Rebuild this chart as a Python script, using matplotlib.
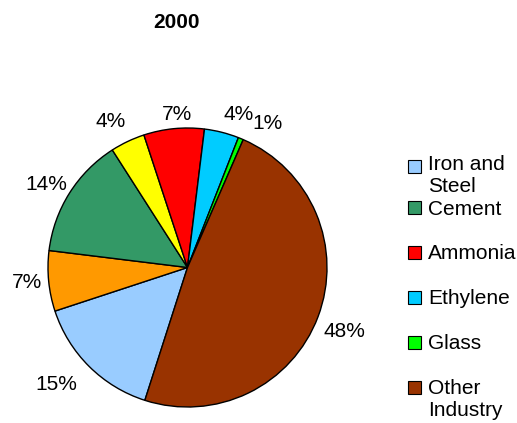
import numpy as np
import matplotlib
matplotlib.use("Agg")
import matplotlib.pyplot as plt
from matplotlib.patches import Rectangle

plt.rcParams["font.family"] = ["Liberation Sans", "DejaVu Sans"]

# slices, clockwise from the bottom
shares = [15, 7, 14, 4, 7, 4, 0.6, 48.4]
slice_colors = ["#99CCFF", "#FF9900", "#339966", "#FFFF00",
                "#FF0000", "#00CCFF", "#00FF00", "#993300"]
pct_labels = [f"{v:.0f}%" for v in shares]

# legend entries as shown in the picture
legend_names = ["Iron and\nSteel", "Cement", "Ammonia", "Ethylene", "Glass", "Other\nIndustry"]
legend_colors = ["#99CCFF", "#339966", "#FF0000", "#00CCFF", "#00FF00", "#993300"]

W, H = 517, 423
FS = 15
fig = plt.figure(figsize=(W / 100, H / 100), dpi=100)

cx, cy, r = 187.5, 267.5, 139.5
ax = fig.add_axes([(cx - r) / W, (H - cy - r) / H, 2 * r / W, 2 * r / H])
wedges, texts = ax.pie(shares, colors=slice_colors, labels=pct_labels,
                       startangle=-107.8, counterclock=False, labeldistance=1.18,
                       wedgeprops=dict(edgecolor="black", linewidth=1.0),
                       textprops=dict(fontsize=FS))
ax.set_xlim(-1, 1)
ax.set_ylim(-1, 1)

# place labels just outside the rim, like the spreadsheet did
renderer = fig.canvas.get_renderer()
px = 1 / r  # one pixel in data units
gap = 7
# pixel shifts (right, down) to match where the original put each label
nudge = {0: (-13, 6), 3: (-8, -5), 4: (5, 2), 5: (11, -2), 6: (18, 0), 7: (0, 9)}
for i, (w, t) in enumerate(zip(wedges, texts)):
    t.set_ha("center")
    t.set_va("center")
    bb = t.get_window_extent(renderer)
    th = np.deg2rad((w.theta1 + w.theta2) / 2)
    x = (1 + gap * px) * np.cos(th) + bb.width / 2 * px * np.cos(th)
    y = (1 + gap * px) * np.sin(th) + bb.height / 2 * px * np.sin(th)
    dx, dy = nudge.get(i, (0, 0))
    t.set_position((x + dx * px, y - dy * px))

fig.text(177 / W, 1 - 22 / H, "2000", ha="center", va="center",
         fontsize=FS, fontweight="bold")

# legend drawn by hand so it sits like the original
ys = [167, 208, 252, 297, 342, 387]
text_shift = [-4, 0, 0, 0, 0, 0]
sq = 13
for name, col, y, s in zip(legend_names, legend_colors, ys, text_shift):
    fig.patches.append(Rectangle((408 / W, 1 - (y + sq / 2) / H), sq / W, sq / H,
                                 transform=fig.transFigure, facecolor=col,
                                 edgecolor="black", linewidth=0.8))
    fig.text(428 / W, 1 - (y - 8 + s) / H, name, ha="left", va="top",
             fontsize=FS, linespacing=1.22)

fig.savefig("out.png", dpi=100)
